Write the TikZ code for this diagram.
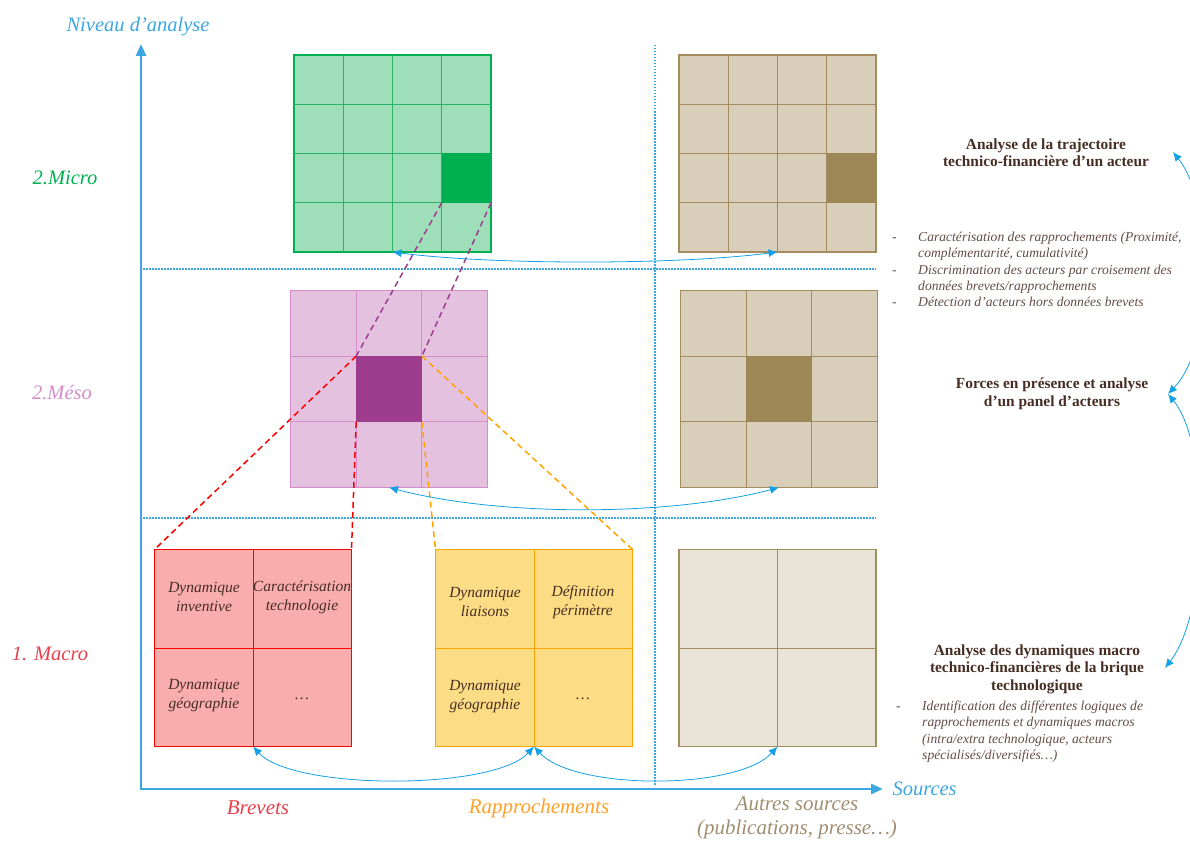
\documentclass[tikz,border=0pt]{standalone}
\usepackage{fontspec}
\setmainfont{Liberation Serif}
\usetikzlibrary{arrows.meta,calc}
\definecolor{axisblue}{RGB}{59,166,224}
\definecolor{arrowblue}{RGB}{20,160,230}
\definecolor{microgreen}{RGB}{0,176,80}
\definecolor{microfill}{RGB}{158,223,185}
\definecolor{microline}{RGB}{40,180,100}
\definecolor{mesopink}{RGB}{214,140,204}
\definecolor{mesofill}{RGB}{229,193,224}
\definecolor{mesodark}{RGB}{158,60,142}
\definecolor{macrored}{RGB}{232,64,74}
\definecolor{macrofill}{RGB}{250,173,173}
\definecolor{rappfill}{RGB}{252,221,133}
\definecolor{rappline}{RGB}{255,163,0}
\definecolor{rapporange}{RGB}{255,160,40}
\definecolor{autreline}{RGB}{164,140,95}
\definecolor{autrefill}{RGB}{216,206,186}
\definecolor{autredark}{RGB}{158,135,87}
\definecolor{autrepale}{RGB}{233,227,216}
\definecolor{autretext}{RGB}{160,142,112}
\definecolor{darktext}{RGB}{70,45,35}

% lignes internes d'un bloc : nom, fractions, couleur
\newcommand{\grille}[3]{%
  \foreach \f in {#2} {
    \draw[draw=#3, line width=0.9pt] ($(#1.north west)!\f!(#1.north east)$) -- ($(#1.south west)!\f!(#1.south east)$);
    \draw[draw=#3, line width=0.9pt] ($(#1.north west)!\f!(#1.south west)$) -- ($(#1.north east)!\f!(#1.south east)$);
  }%
}

\begin{document}
\begin{tikzpicture}[x=1pt,y=-1pt,
  bloc/.style={draw=#1, line width=1.6pt, inner sep=0pt, outer sep=0pt, minimum width=197pt, minimum height=197pt},
  cle/.style={fill=#1, draw=none, inner sep=0pt, outer sep=0pt},
  niveau/.style={font=\fontsize{20.5}{24}\selectfont\itshape},
  source/.style={font=\fontsize{21}{24}\selectfont\itshape, align=center},
  cellule/.style={font=\fontsize{15.5}{19}\selectfont\itshape, text=darktext, align=center},
  titre/.style={font=\fontsize{15.4}{17.5}\selectfont\bfseries, text=darktext, align=center},
  liste/.style={font=\fontsize{13.6}{16.3}\selectfont\itshape, text=darktext!85, anchor=north west, inner sep=0pt},
  lien/.style={arrowblue, line width=0.8pt, {Latex[length=9pt,width=8pt]}-{Latex[length=9pt,width=8pt]}},
  separ/.style={axisblue, line width=1.2pt, dash pattern=on 1.5pt off 1.5pt},
  axe/.style={axisblue, line width=2.5pt, -{Triangle[length=12pt,width=10pt]}},
  pointille/.style={dash pattern=on 6pt off 4pt, line width=1.5pt}]
  \useasboundingbox (0,0) rectangle (1190,840);
  \clip (0,0) rectangle (1190,840);

  % axes et separations
  \coordinate (origine) at (141,790);
  \coordinate (haut) at (141,44);
  \coordinate (droite) at (883,789);
  \draw[separ] (655,45) -- (655,785);
  \draw[separ] (143,269) -- (876,269);
  \draw[separ] (143,518) -- (876,518);
  \draw[axe] (origine) -- (haut);
  \draw[axe] (140,789) -- (droite);
  \node[niveau, text=axisblue] (niveaux) at (138,27) {Niveau d’analyse};
  \node[niveau, text=axisblue, anchor=west] (sources) at (889,789) {Sources};
  \node[niveau, text=microgreen] (lmicro) at (65,178) {2.Micro};
  \node[niveau, text=mesopink] (lmeso) at (62,393) {2.Méso};
  \node[niveau, text=macrored] (lmacro) at (50,654) {1. Macro};
  \node[source, text=macrored] (lbrevets) at (258,808) {Brevets};
  \node[source, text=rapporange] (lrapp) at (539,808) {Rapprochements};
  \node[source, text=autretext] (lautres) at (797,818) {Autres sources\\(publications, presse…)};

  % niveau micro
  \node[bloc=microgreen, fill=microfill] (microbrev) at (392.5,153.5) {};
  \grille{microbrev}{0.25,0.5,0.75}{microline}
  \node[cle=microgreen, minimum width=49.25pt, minimum height=49.25pt] (microcle) at (466.4,178.1) {};
  \node[bloc=autreline, fill=autrefill] (microautre) at (777.5,153.5) {};
  \grille{microautre}{0.25,0.5,0.75}{autreline}
  \node[cle=autredark, minimum width=50pt, minimum height=49.25pt] (microautrecle) at (852,178.1) {};

  % niveau meso
  \node[bloc=mesopink, fill=mesofill] (mesobrev) at (389,389) {};
  \grille{mesobrev}{0.3333,0.6667}{mesopink}
  \node[cle=mesodark, minimum size=65.7pt] (mesocle) at (389,389) {};
  \node[bloc=autreline, fill=autrefill] (mesoautre) at (779,389) {};
  \grille{mesoautre}{0.3333,0.6667}{autreline}
  \node[cle=autredark, minimum size=65.7pt] (mesoautrecle) at (779,389) {};

  % niveau macro
  \node[bloc=red, fill=macrofill] (macrobrev) at (253,648) {};
  \grille{macrobrev}{0.5}{red}
  \node[bloc=rappline, fill=rappfill] (macrorapp) at (534,648) {};
  \grille{macrorapp}{0.5}{rappline}
  \node[bloc=autreline, fill=autrepale] (macroautre) at (777.5,648) {};
  \grille{macroautre}{0.5}{autreline}
  \node[cellule] (dyninv) at (204,597) {Dynamique\\inventive};
  \node[cellule] (cartech) at (302,597) {Caractérisation\\technologie};
  \node[cellule] (dyngeo) at (204,696) {Dynamique\\géographie};
  \node[cellule] (autrebrev) at (302,699) {…};
  \node[cellule] (dynlia) at (485,602) {Dynamique\\liaisons};
  \node[cellule] (defper) at (583,602) {Définition\\périmètre};
  \node[cellule] (dyngeor) at (485,697) {Dynamique\\géographie};
  \node[cellule] (autrerapp) at (583,699) {…};

  % zooms entre niveaux
  \draw[pointille, mesodark] (microcle.south west) -- (mesocle.north west);
  \draw[pointille, mesodark] (microcle.south east) -- (mesocle.north east);
  \draw[pointille, red] (mesocle.north west) -- (macrobrev.north west);
  \draw[pointille, red] (mesocle.south west) -- (macrobrev.north east);
  \draw[pointille, rappline] (mesocle.north east) -- (macrorapp.north east);
  \draw[pointille, rappline] (mesocle.south east) -- (macrorapp.north west);

  % croisements des sources
  \draw[lien] (microbrev.south) .. controls +(100,13) and +(-100,13) .. (microautre.south);
  \draw[lien] (mesobrev.south) .. controls +(110,29) and +(-110,29) .. (mesoautre.south);
  \draw[lien] (macrobrev.south) .. controls +(40,44) and +(-40,44) .. (macrorapp.south);
  \draw[lien] (macrorapp.south) .. controls +(40,44) and +(-40,44) .. (macroautre.south);

  % analyses
  \node[titre] (tmicro) at (1046,153) {Analyse de la trajectoire\\technico-financière d’un acteur};
  \node[liste] (listemicro) at (892,230) {\begin{tabular}{@{}p{26pt}@{}l@{}}
    - & Caractérisation des rapprochements (Proximité,\\
      & complémentarité, cumulativité)\\
    - & Discrimination des acteurs par croisement des\\
      & données brevets/rapprochements\\
    - & Détection d’acteurs hors données brevets
  \end{tabular}};
  \node[titre] (tmeso) at (1052,394) {Forces en présence et analyse\\d’un panel d’acteurs};
  \node[titre] (tmacro) at (1037,669) {Analyse des dynamiques macro\\technico-financières de la brique\\technologique};
  \node[liste] (listemacro) at (896,699) {\begin{tabular}{@{}p{26pt}@{}l@{}}
    - & Identification des différentes logiques de\\
      & rapprochements et dynamiques macros\\
      & (intra/extra technologique, acteurs\\
      & spécialisés/diversifiés…)
  \end{tabular}};
  \coordinate (pmicro) at (1173,152);
  \coordinate (pmeso) at (1168,394);
  \coordinate (pmacro) at (1165,668);
  \draw[lien] (pmicro) .. controls (1215,205) and (1215,345) .. (pmeso);
  \draw[lien] (pmeso) .. controls (1210,445) and (1210,610) .. (pmacro);
\end{tikzpicture}
\end{document}
